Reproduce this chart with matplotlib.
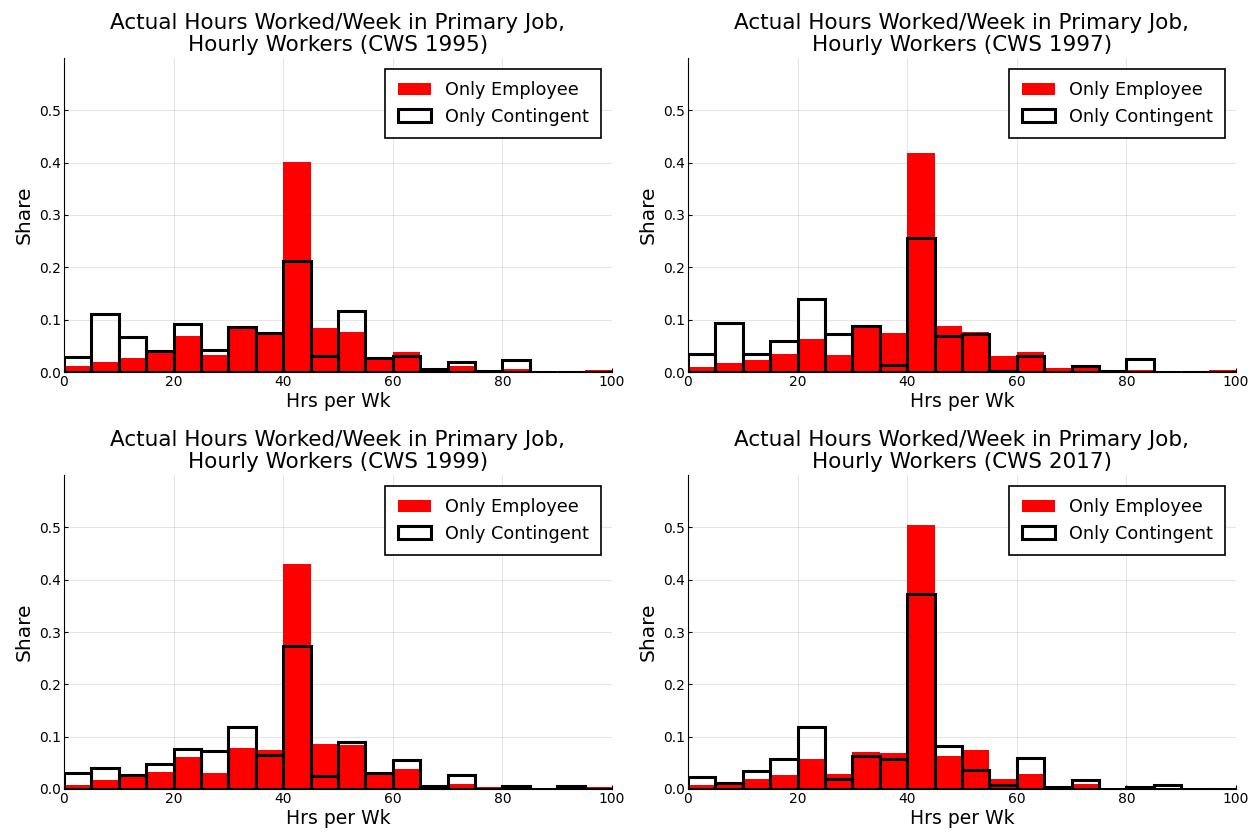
import numpy as np
import matplotlib
matplotlib.use("Agg")
from matplotlib import pyplot as plt
from matplotlib.patches import Patch

# bin edges, 5 hour bins from 0 to 100
edges = np.arange(0, 105, 5)
years = ['1995', '1997', '1999', '2017']

emp_1995 = [0.011, 0.020, 0.026, 0.036, 0.069, 0.033, 0.087, 0.077, 0.402, 0.084,
            0.077, 0.026, 0.038, 0.008, 0.012, 0.003, 0.005, 0.0, 0.0, 0.003]
con_1995 = [0.028, 0.111, 0.067, 0.040, 0.091, 0.042, 0.086, 0.074, 0.212, 0.030,
            0.117, 0.026, 0.031, 0.005, 0.019, 0.002, 0.022, 0.0, 0.0, 0.0]

emp_1997 = [0.009, 0.017, 0.023, 0.035, 0.063, 0.033, 0.084, 0.075, 0.418, 0.088,
            0.076, 0.030, 0.038, 0.008, 0.012, 0.003, 0.004, 0.0, 0.0, 0.003]
con_1997 = [0.035, 0.093, 0.034, 0.059, 0.139, 0.072, 0.088, 0.013, 0.256, 0.068,
            0.072, 0.002, 0.030, 0.0, 0.012, 0.001, 0.024, 0.0, 0.0, 0.0]

emp_1999 = [0.008, 0.017, 0.024, 0.033, 0.062, 0.030, 0.079, 0.074, 0.429, 0.086,
            0.085, 0.030, 0.038, 0.007, 0.010, 0.003, 0.004, 0.0, 0.0, 0.003]
con_1999 = [0.031, 0.040, 0.026, 0.047, 0.077, 0.072, 0.118, 0.065, 0.273, 0.025,
            0.090, 0.031, 0.056, 0.005, 0.027, 0.0, 0.006, 0.0, 0.006, 0.0]

emp_2017 = [0.008, 0.011, 0.019, 0.026, 0.058, 0.028, 0.070, 0.069, 0.504, 0.064,
            0.074, 0.020, 0.029, 0.006, 0.009, 0.0, 0.003, 0.0, 0.0, 0.001]
con_2017 = [0.023, 0.012, 0.035, 0.058, 0.119, 0.020, 0.063, 0.057, 0.373, 0.082,
            0.037, 0.007, 0.059, 0.003, 0.018, 0.0, 0.004, 0.008, 0.0, 0.0]

emp = [emp_1995, emp_1997, emp_1999, emp_2017]
con = [con_1995, con_1997, con_1999, con_2017]

fig = plt.figure(figsize=(12.59, 8.36), dpi=100)
boxes = [(64, 58), (688, 58), (64, 475), (688, 475)]
W, H = 1259, 836

for i in range(4):
    x0, ytop = boxes[i]
    ax = fig.add_axes([x0 / W, 1 - (ytop + 314) / H, 548 / W, 314 / H])
    ax.bar(edges[:-1], emp[i], width=5, align='edge', color='red', linewidth=0,
           zorder=2)
    ax.bar(edges[:-1], con[i], width=5, align='edge', fill=False,
           edgecolor='black', linewidth=2.2, zorder=3)
    ax.set_xlim(0, 100)
    ax.set_ylim(0, 0.6)
    ax.set_xticks([0, 20, 40, 60, 80, 100])
    ax.set_yticks([0.0, 0.1, 0.2, 0.3, 0.4, 0.5])
    ax.set_yticklabels(['0.0', '0.1', '0.2', '0.3', '0.4', '0.5'])
    ax.grid(True, color='black', alpha=0.1, linewidth=0.8, zorder=0)
    ax.set_axisbelow(True)
    ax.spines['top'].set_visible(False)
    ax.spines['right'].set_visible(False)
    ax.tick_params(direction='in', length=3, labelsize=10, pad=2)
    ax.set_title('Actual Hours Worked/Week in Primary Job,\nHourly Workers (CWS ' + years[i] + ')',
                 fontsize=15.5, pad=5, linespacing=1.15)
    ax.set_xlabel('Hrs per Wk', fontsize=13.5, labelpad=2)
    ax.set_ylabel('Share', fontsize=14.5, labelpad=4)
    handles = [Patch(facecolor='red', edgecolor='none', label='Only Employee'),
               Patch(facecolor='white', edgecolor='black', linewidth=2.2, label='Only Contingent')]
    leg = ax.legend(handles=handles, loc='upper right', fontsize=12.7, fancybox=False,
                    framealpha=1, edgecolor='black', borderpad=0.7, handlelength=1.9,
                    borderaxespad=0.6)
    leg.get_frame().set_linewidth(1.2)

plt.savefig('out.png', dpi=100)
